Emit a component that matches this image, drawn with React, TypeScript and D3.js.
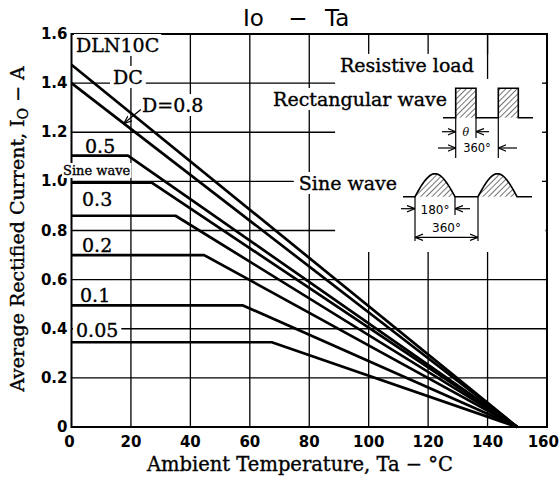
import React, { useLayoutEffect, useRef, useState } from "react";
import * as d3 from "d3";

const W = 560;
const H = 484;

const xDomain = [0, 160];
const yDomain = [0, 1.6];
const xTicks = [0, 20, 40, 60, 80, 100, 120, 140, 160];
const yTicks = [0, 0.2, 0.4, 0.6, 0.8, 1.0, 1.2, 1.4, 1.6];
const yTickLabels = ["0", "0.2", "0.4", "0.6", "0.8", "1.0", "1.2", "1.4", "1.6"];

// derating curves: flat at ratedCurrent until kneeTemp, then linear to 0 at zeroTemp
const seriesNames = ["DC", "D=0.8", "0.5", "Sine wave", "0.3", "0.2", "0.1", "0.05"];
const ratedCurrent = [1.475, 1.4, 1.105, 0.995, 0.86, 0.7, 0.495, 0.345];
const kneeTemp = [0, 0, 19, 27, 35, 44.6, 57.7, 67.4];
const zeroTemp = [150, 150, 150, 150, 150, 150, 150, 150];

const SERIF = "'DejaVu Serif', serif";
const SANS = "'DejaVu Sans', sans-serif";

function BgText(props: any) {
  const { pad = 2, padY = 0, children, ...rest } = props;
  const ref = useRef<SVGTextElement>(null);
  const [bb, setBB] = useState<any>(null);
  useLayoutEffect(() => {
    if (ref.current) {
      const b = ref.current.getBBox();
      setBB({ x: b.x, y: b.y, w: b.width, h: b.height });
    }
  }, []);
  return (
    <g>
      {bb && (
        <rect x={bb.x - pad} y={bb.y - padY} width={bb.w + 2 * pad} height={bb.h + 2 * padY} fill="white" stroke="none" />
      )}
      <text ref={ref} {...rest}>
        {children}
      </text>
    </g>
  );
}

export default function App() {
  const xs = d3.scaleLinear().domain(xDomain).range([71.5, 547]);
  const ys = d3.scaleLinear().domain(yDomain).range([427, 34]);
  const line = d3
    .line<number[]>()
    .x((d) => xs(d[0]))
    .y((d) => ys(d[1]));

  const curves = seriesNames.map((name, i) => ({
    name,
    pts: [
      [0, ratedCurrent[i]],
      [kneeTemp[i], ratedCurrent[i]],
      [zeroTemp[i], 0],
    ],
  }));

  // inset (legend/diagram) area in data units
  const insetX0 = 88.7;
  const insetY0 = 0.7125;
  const insetY1 = 1.519;

  // D=0.8 pointer
  const pTa = 17.6;
  const pIo = ratedCurrent[1] * (1 - pTa / zeroTemp[1]);
  const px = xs(pTa);
  const py = ys(pIo);

  // rectangle wave diagram
  const rBase = 117.7;
  const rTop = 88.3;
  const p1 = [455.7, 476];
  const p2 = [498.3, 518.3];
  const rectPath = `M443,${rBase} L${p1[0]},${rBase} L${p1[0]},${rTop} L${p1[1]},${rTop} L${p1[1]},${rBase} L${p2[0]},${rBase} L${p2[0]},${rTop} L${p2[1]},${rTop} L${p2[1]},${rBase} L533,${rBase}`;

  // sine wave diagram
  const sBase = 196.7;
  const sAmp = 23;
  const h1 = [415, 455];
  const h2 = [478, 517];
  const hump = (a: number, b: number) => {
    const n = 24;
    return d3.range(n + 1).map((k) => {
      const t = k / n;
      return [a + (b - a) * t, sBase - sAmp * Math.sin(Math.PI * t)];
    });
  };
  const humpLine = d3.line<number[]>().x((d) => d[0]).y((d) => d[1]);
  const hump1 = hump(h1[0], h1[1]);
  const hump2 = hump(h2[0], h2[1]);

  const dimStyle = { stroke: "#000", strokeWidth: 1.2, fill: "none" };
  const txtStroke = { stroke: "#000", strokeWidth: 0.35 };

  return (
    <svg
      width={W}
      height={H}
      viewBox={`0 0 ${W} ${H}`}
      style={{ position: "absolute", left: 0, top: 0, background: "white" }}
    >
      <defs>
        <pattern id="hatch" width="4" height="4" patternUnits="userSpaceOnUse" patternTransform="rotate(45)">
          <line x1="0" y1="0" x2="0" y2="4" stroke="#000" strokeWidth="1.1" />
        </pattern>
        <marker id="arr" viewBox="0 0 8 8" refX="8" refY="4" markerWidth="8" markerHeight="8" orient="auto-start-reverse" markerUnits="userSpaceOnUse">
          <path d="M0,0.8 L8,4 L0,7.2" fill="none" stroke="#000" strokeWidth="1.2" />
        </marker>
      </defs>
      <rect x={0} y={0} width={W} height={H} fill="white" />

      {/* title */}
      <g fontFamily={SANS} fontSize={23} fill="#000">
        <text x={243} y={26}>Io</text>
        <text x={298} y={26} textAnchor="middle">−</text>
        <text x={325} y={26}>Ta</text>
      </g>

      {/* grid */}
      <g stroke="#000" strokeWidth={1.3}>
        {xTicks.slice(1, -1).map((t) => (
          <line key={"gx" + t} x1={xs(t)} x2={xs(t)} y1={ys(0)} y2={ys(1.6)} />
        ))}
        {yTicks.slice(1, -1).map((t) => (
          <line key={"gy" + t} x1={xs(0)} x2={xs(160)} y1={ys(t)} y2={ys(t)} />
        ))}
      </g>

      {/* inset area cleared */}
      <rect x={xs(insetX0)} y={ys(insetY1)} width={xs(160) - 1.5 - xs(insetX0)} height={ys(insetY0) - ys(insetY1)} fill="white" />
      <line x1={xs(140)} x2={xs(140)} y1={ys(1.6)} y2={ys(1.417)} stroke="#000" strokeWidth={1.3} />
      {[1.4, 1.2, 1.0].map((t) => (
        <line key={"rt" + t} x1={xs(160) - 5} x2={xs(160)} y1={ys(t)} y2={ys(t)} stroke="#000" strokeWidth={1.3} />
      ))}

      {/* frame */}
      <rect x={xs(0)} y={ys(1.6)} width={xs(160) - xs(0)} height={ys(0) - ys(1.6)} fill="none" stroke="#000" strokeWidth={2} />

      {/* tick labels */}
      <g fontFamily={SANS} fontWeight="bold" fontSize={15} fill="#000">
        {yTicks.map((t, i) => (
          <text key={"yl" + t} x={xs(0) - 4} y={ys(t) + 5} textAnchor="end">
            {yTickLabels[i]}
          </text>
        ))}
        {xTicks.map((t) => (
          <text
            key={"xl" + t}
            x={t === 160 ? 559 : xs(t) + (t === 0 ? -2 : 0)}
            y={447}
            textAnchor={t === 160 ? "end" : "middle"}
          >
            {t}
          </text>
        ))}
      </g>

      {/* axis titles */}
      <text x={300} y={471} textAnchor="middle" fontFamily={SERIF} fontSize={19.5} fill="#000" {...txtStroke}>
        Ambient Temperature, Ta − °C
      </text>
      <text transform="translate(24,229) rotate(-90)" textAnchor="middle" fontFamily={SERIF} fontSize={19} fill="#000" {...txtStroke}>
        Average Rectified Current, I
        <tspan fontSize={14} dy={4}>O</tspan>
        <tspan dy={-4}> − A</tspan>
      </text>

      {/* curve labels */}
      <g fontFamily={SERIF} fontSize={19} fill="#000" {...txtStroke}>
        <BgText x={76} y={52}>DLN10C</BgText>
        <BgText x={113} y={84} pad={3}>DC</BgText>
        <BgText x={142} y={112} pad={2}>D=0.8</BgText>
        <text x={85} y={153}>0.5</text>
        <BgText x={63} y={175} fontSize={13} pad={1}>Sine wave</BgText>
        <text x={82} y={206}>0.3</text>
        <text x={82} y={252}>0.2</text>
        <text x={80} y={302}>0.1</text>
        <BgText x={76} y={337} pad={3}>0.05</BgText>
        <BgText x={340} y={72}>Resistive load</BgText>
        <BgText x={447} y={106} textAnchor="end" pad={4}>Rectangular wave</BgText>
        <BgText x={397} y={190} textAnchor="end" pad={5}>Sine wave</BgText>
      </g>

      {/* D=0.8 pointer */}
      <line x1={px + 17} y1={py - 14} x2={px} y2={py} stroke="#000" strokeWidth={1.2} markerEnd="url(#arr)" />

      {/* curves */}
      <g fill="none" stroke="#000" strokeWidth={2.7} strokeLinejoin="round">
        {curves.map((c) => (
          <path key={c.name} d={line(c.pts as any) || ""} />
        ))}
      </g>

      {/* rectangular wave diagram */}
      <rect x={p1[0]} y={rTop} width={p1[1] - p1[0]} height={rBase - rTop} fill="url(#hatch)" />
      <rect x={p2[0]} y={rTop} width={p2[1] - p2[0]} height={rBase - rTop} fill="url(#hatch)" />
      <path d={rectPath} fill="none" stroke="#000" strokeWidth={1.6} />
      <g {...dimStyle}>
        <line x1={p1[0]} x2={p1[0]} y1={rBase} y2={158} />
        <line x1={p1[1]} x2={p1[1]} y1={rBase} y2={138} />
        <line x1={p2[0]} x2={p2[0]} y1={rBase} y2={158} />
        <line x1={442} x2={p1[0]} y1={131.7} y2={131.7} markerEnd="url(#arr)" />
        <line x1={489} x2={p1[1]} y1={131.7} y2={131.7} markerEnd="url(#arr)" />
        <line x1={438} x2={p1[0]} y1={148} y2={148} markerEnd="url(#arr)" />
        <line x1={517} x2={p2[0]} y1={148} y2={148} markerEnd="url(#arr)" />
      </g>
      <text x={(p1[0] + p1[1]) / 2} y={135.5} textAnchor="middle" fontFamily={SERIF} fontStyle="italic" fontSize={11}>θ</text>
      <text x={(p1[0] + p2[0]) / 2} y={152} textAnchor="middle" fontFamily={SANS} fontSize={11.5}>360°</text>

      {/* sine wave diagram */}
      <path d={(humpLine(hump1 as any) || "") + "Z"} fill="url(#hatch)" stroke="none" />
      <path d={(humpLine(hump2 as any) || "") + "Z"} fill="url(#hatch)" stroke="none" />
      <path
        d={`M403,${sBase} L${h1[0]},${sBase} ${(humpLine(hump1 as any) || "").replace("M", "L")} L${h2[0]},${sBase} ${(humpLine(hump2 as any) || "").replace("M", "L")} L532,${sBase}`}
        fill="none"
        stroke="#000"
        strokeWidth={1.6}
      />
      <g {...dimStyle}>
        <line x1={h1[0]} x2={h1[0]} y1={sBase} y2={241} />
        <line x1={h1[1]} x2={h1[1]} y1={sBase} y2={215} />
        <line x1={h2[0]} x2={h2[0]} y1={sBase} y2={241} />
        <line x1={401} x2={h1[0]} y1={208.7} y2={208.7} markerEnd="url(#arr)" />
        <line x1={470} x2={h1[1]} y1={208.7} y2={208.7} markerEnd="url(#arr)" />
        <line x1={h1[0]} x2={h2[0]} y1={237.3} y2={237.3} markerStart="url(#arr)" markerEnd="url(#arr)" />
      </g>
      <text x={(h1[0] + h1[1]) / 2} y={213.5} textAnchor="middle" fontFamily={SANS} fontSize={12}>180°</text>
      <text x={(h1[0] + h2[0]) / 2} y={232} textAnchor="middle" fontFamily={SANS} fontSize={12}>360°</text>
    </svg>
  );
}
